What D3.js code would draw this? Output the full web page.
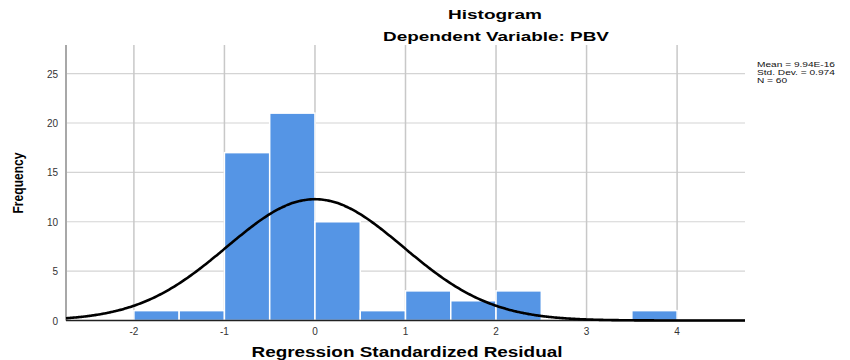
<!DOCTYPE html>
<html>
<head>
<meta charset="utf-8">
<script src="https://cdn.jsdelivr.net/npm/d3@7"></script>
<style>
  body { margin: 0; background: #fff; }
  svg { font-family: "Liberation Sans", Arial, sans-serif; }
</style>
</head>
<body>
<svg width="850" height="360"></svg>
<script>
// bins of the regression standardized residual (width 0.5)
let binStarts = [-2, -1.5, -1, -0.5, 0, 0.5, 1, 1.5, 2, 2.5, 3, 3.5];
let binCounts = [1, 1, 17, 21, 10, 1, 3, 2, 3, 0, 0, 1];
let binWidth = 0.5;
let xTicks = [-2, -1, 0, 1, 2, 3, 4];
let yTicks = [0, 5, 10, 15, 20, 25];
let stats = { mean: 9.94e-16, sd: 0.974, n: 60 };
let statLines = ["Mean = 9.94E-16", "Std. Dev. = 0.974", "N = 60"];

let svg = d3.select("svg");
let x = d3.scaleLinear().domain([-2.75, 4.75]).range([66, 745]);
let y = d3.scaleLinear().domain([0, 27.9]).range([320.5, 45]);

// grid
svg.append("g").selectAll("line")
  .data(yTicks.filter(d => d > 0))
  .enter().append("line")
  .attr("x1", x.range()[0]).attr("x2", x.range()[1])
  .attr("y1", d => y(d)).attr("y2", d => y(d))
  .attr("stroke", "#d4d4d4").attr("stroke-width", 1.2);

svg.append("g").selectAll("line")
  .data(xTicks)
  .enter().append("line")
  .attr("x1", d => x(d)).attr("x2", d => x(d))
  .attr("y1", y.range()[1]).attr("y2", y(0))
  .attr("stroke", "#c8c8c8").attr("stroke-width", 1.5);

// bars
svg.append("g").selectAll("rect")
  .data(binStarts.map((s, i) => ({ s, c: binCounts[i] })).filter(d => d.c > 0))
  .enter().append("rect")
  .attr("x", d => x(d.s))
  .attr("width", d => x(d.s + binWidth) - x(d.s))
  .attr("y", d => y(d.c))
  .attr("height", d => y(0) - y(d.c))
  .attr("fill", "#5595e5")
  .attr("stroke", "#fff").attr("stroke-width", 1.5);

// axes lines
svg.append("line")
  .attr("x1", x.range()[0]).attr("x2", x.range()[0])
  .attr("y1", y.range()[1]).attr("y2", y(0))
  .attr("stroke", "#a8a8a8").attr("stroke-width", 2);
svg.append("line")
  .attr("x1", x.range()[0]).attr("x2", x.range()[1])
  .attr("y1", y(0)).attr("y2", y(0))
  .attr("stroke", "#222").attr("stroke-width", 1.5);

// normal curve
let scaleN = stats.n * binWidth / (stats.sd * Math.sqrt(2 * Math.PI));
let curvePts = d3.range(-2.75, 4.751, 0.02).map(v => [v, scaleN * Math.exp(-0.5 * Math.pow((v - stats.mean) / stats.sd, 2))]);
svg.append("path")
  .datum(curvePts)
  .attr("fill", "none")
  .attr("stroke", "#000").attr("stroke-width", 2.6)
  .attr("d", d3.line().x(d => x(d[0])).y(d => y(d[1])).curve(d3.curveBasis));

// tick labels
svg.append("g").selectAll("text")
  .data(yTicks)
  .enter().append("text")
  .attr("x", 58).attr("y", d => y(d) + 4)
  .attr("text-anchor", "end")
  .attr("font-size", 10).attr("fill", "#333")
  .text(d => d);

svg.append("g").selectAll("text")
  .data(xTicks)
  .enter().append("text")
  .attr("x", d => x(d)).attr("y", 335)
  .attr("text-anchor", "middle")
  .attr("font-size", 10).attr("fill", "#333")
  .text(d => d);

// titles
svg.append("text").attr("x", 495).attr("y", 19)
  .attr("text-anchor", "middle").attr("font-size", 13).attr("font-weight", "bold")
  .attr("textLength", 94).attr("lengthAdjust", "spacingAndGlyphs")
  .text("Histogram");
svg.append("text").attr("x", 496).attr("y", 41)
  .attr("text-anchor", "middle").attr("font-size", 13).attr("font-weight", "bold")
  .attr("textLength", 226).attr("lengthAdjust", "spacingAndGlyphs")
  .text("Dependent Variable: PBV");

svg.append("text").attr("x", 407).attr("y", 357)
  .attr("text-anchor", "middle").attr("font-size", 14).attr("font-weight", "bold")
  .attr("textLength", 311).attr("lengthAdjust", "spacingAndGlyphs")
  .text("Regression Standardized Residual");

svg.append("text")
  .attr("transform", "translate(23,183) rotate(-90)")
  .attr("text-anchor", "middle").attr("font-size", 14).attr("font-weight", "bold")
  .attr("textLength", 61).attr("lengthAdjust", "spacingAndGlyphs")
  .text("Frequency");

// stats box
svg.append("g").selectAll("text")
  .data(statLines)
  .enter().append("text")
  .attr("x", 757).attr("y", (d, i) => 67 + i * 8)
  .attr("font-size", 7).attr("fill", "#111")
  .attr("transform", "translate(757,0) scale(1.45,1) translate(-757,0)")
  .text(d => d);
</script>
</body>
</html>
